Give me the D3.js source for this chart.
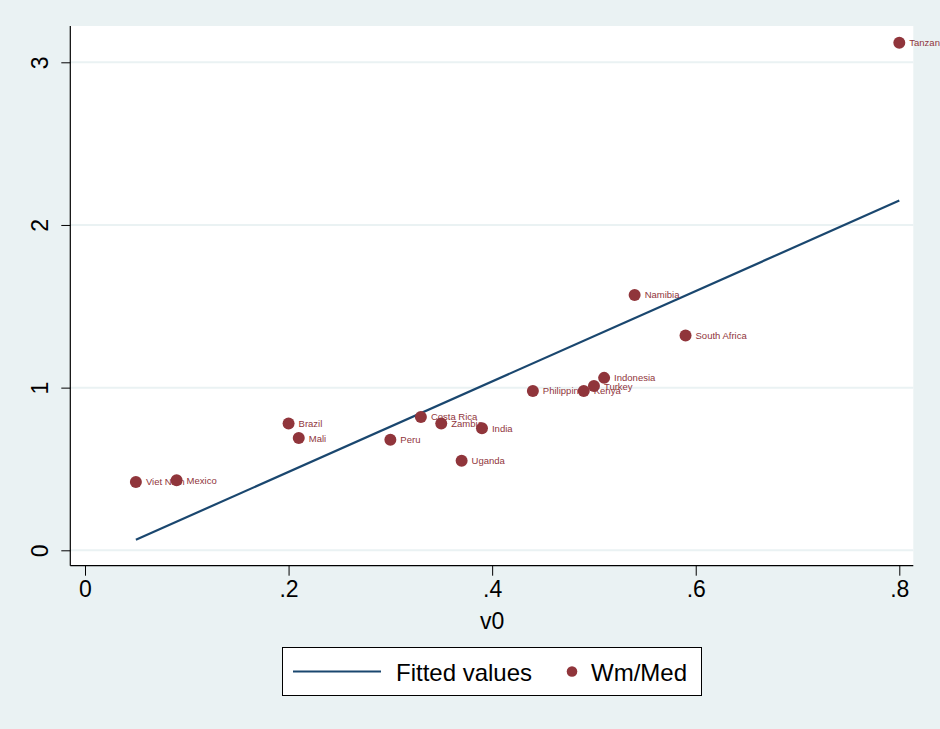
<!DOCTYPE html>
<html><head><meta charset="utf-8">
<script src="https://cdn.jsdelivr.net/npm/d3@7"></script>
<style>html,body{margin:0;padding:0;background:#EAF2F3;overflow:hidden}</style>
</head><body>
<script>
const countries = ["Viet Nam","Mexico","Brazil","Mali","Peru","Costa Rica","Zambia","India","Uganda","Philippines","Kenya","Turkey","Indonesia","Namibia","South Africa","Tanzania"];
const v0Values  = [0.05,0.09,0.20,0.21,0.30,0.33,0.35,0.39,0.37,0.44,0.49,0.50,0.51,0.54,0.59,0.80];
const wmMedValues = [0.42,0.43,0.78,0.69,0.68,0.82,0.78,0.75,0.55,0.98,0.98,1.01,1.06,1.57,1.32,3.12];
const fittedX = [0.05, 0.80];
const fittedY = [0.065, 2.15];
const xTicks = [0, 0.2, 0.4, 0.6, 0.8];
const xTickLabels = ["0", ".2", ".4", ".6", ".8"];
const yTicks = [0, 1, 2, 3];
const yTickLabels = ["0", "1", "2", "3"];
const legendLabels = ["Fitted values", "Wm/Med"];

const W = 940, H = 729;
const bg = "#EAF2F3", navy = "#1A476F", maroon = "#90353B";
const plot = {left: 70.3, right: 913.3, top: 26, bottom: 565.7};
const FONT = "'Liberation Sans', Arial, sans-serif";

const svg = d3.select("body").append("svg").attr("width", W).attr("height", H)
  .style("font-family", FONT);
svg.append("rect").attr("width", W).attr("height", H).attr("fill", bg);

const x = d3.scaleLinear().domain([0, 0.8]).range([85, 899.3]);
const y = d3.scaleLinear().domain([0, 3]).range([550.3, 62.3]);

svg.append("rect").attr("x", plot.left).attr("y", plot.top)
  .attr("width", plot.right - plot.left).attr("height", plot.bottom - plot.top).attr("fill", "#fff");

// gridlines
svg.append("g").selectAll("line").data(yTicks).join("line")
  .attr("x1", plot.left).attr("x2", plot.right)
  .attr("y1", d => y(d)).attr("y2", d => y(d))
  .attr("stroke", bg).attr("stroke-width", 2);

// axes
const xAxis = d3.axisBottom(x).tickValues(xTicks).tickFormat((d, i) => xTickLabels[i]).tickSize(10).tickSizeOuter(0).tickPadding(5);
const gx = svg.append("g").attr("transform", `translate(0,${plot.bottom})`).call(xAxis);
gx.select(".domain").remove();
gx.append("line").attr("x1", plot.left).attr("x2", plot.right).attr("y1", 0).attr("y2", 0).attr("stroke", "#000").attr("stroke-width", 1.2);
gx.selectAll(".tick line").attr("stroke", "#000");
gx.selectAll(".tick text").attr("font-size", 23).attr("fill", "#000").attr("font-family", FONT);

const yAxis = d3.axisLeft(y).tickValues(yTicks).tickFormat((d, i) => yTickLabels[i]).tickSize(9).tickSizeOuter(0);
const gy = svg.append("g").attr("transform", `translate(${plot.left},0)`).call(yAxis);
gy.select(".domain").remove();
gy.append("line").attr("x1", 0).attr("x2", 0).attr("y1", plot.top).attr("y2", plot.bottom).attr("stroke", "#000").attr("stroke-width", 1.2);
gy.selectAll(".tick line").attr("stroke", "#000");
gy.selectAll(".tick text").attr("font-size", 23).attr("fill", "#000")
  .attr("font-family", FONT)
  .attr("x", null).attr("dy", null)
  .attr("text-anchor", "middle").attr("dominant-baseline", "central")
  .attr("transform", "translate(-30,0) rotate(-90)");

// x axis title
svg.append("text").attr("x", (x(0) + x(0.8)) / 2).attr("y", 629).attr("text-anchor", "middle")
  .attr("font-size", 23).text("v0");

// fitted line
const line = d3.line().x(d => x(d[0])).y(d => y(d[1]));
svg.append("path").datum(fittedX.map((d, i) => [d, fittedY[i]]))
  .attr("d", line).attr("fill", "none").attr("stroke", navy).attr("stroke-width", 2.2);

// points
const pts = countries.map((c, i) => ({c, x: v0Values[i], y: wmMedValues[i]}));
svg.append("g").selectAll("circle").data(pts).join("circle")
  .attr("cx", d => x(d.x)).attr("cy", d => y(d.y)).attr("r", 6).attr("fill", maroon);
svg.append("g").selectAll("text").data(pts).join("text")
  .attr("x", d => x(d.x) + 10).attr("y", d => y(d.y) + 3.5)
  .attr("font-size", 9.5).attr("fill", maroon).text(d => d.c);

// legend
const lg = svg.append("g");
lg.append("rect").attr("x", 282.5).attr("y", 647.5).attr("width", 419).attr("height", 48)
  .attr("fill", "#fff").attr("stroke", "#000").attr("stroke-width", 1);
lg.append("line").attr("x1", 293).attr("x2", 381).attr("y1", 671.5).attr("y2", 671.5)
  .attr("stroke", navy).attr("stroke-width", 2.2);
lg.append("text").attr("x", 396).attr("y", 680.5).attr("font-size", 24).text(legendLabels[0]);
lg.append("circle").attr("cx", 572).attr("cy", 671.5).attr("r", 5.3).attr("fill", maroon);
lg.append("text").attr("x", 591).attr("y", 680.5).attr("font-size", 24).text(legendLabels[1]);
</script>
</body></html>
